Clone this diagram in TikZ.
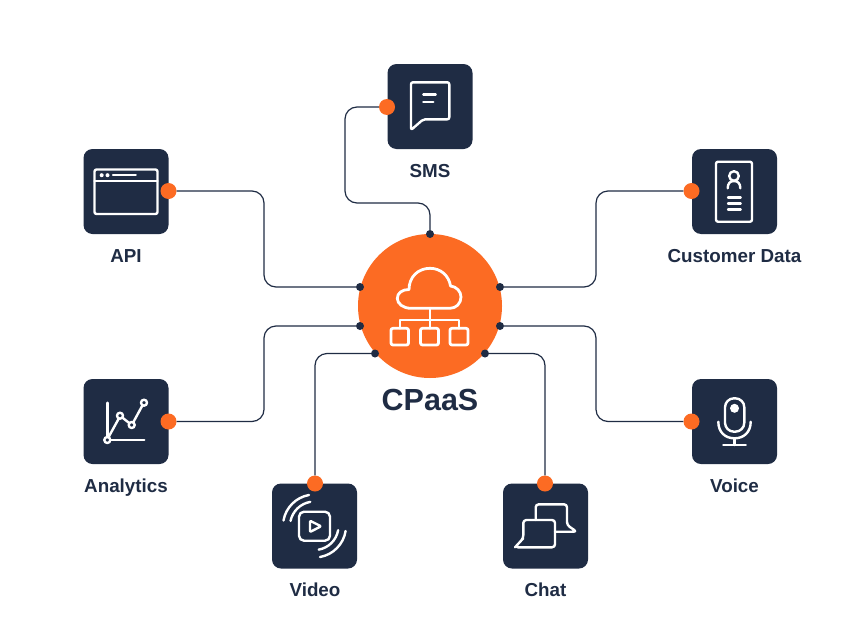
\documentclass[tikz,border=0pt]{standalone}
\usepackage{fontspec}
\setmainfont{Liberation Sans}
\definecolor{navy}{HTML}{1F2C44}
\definecolor{tangerine}{HTML}{FC6B23}
\begin{document}
\begin{tikzpicture}[x=1pt,y=-1pt]
\tikzstyle{every node}+=[inner sep=0pt]
\tikzstyle{tile}=[fill=navy,rounded corners=9pt,minimum size=85pt]
\tikzstyle{pin}=[circle,fill=tangerine,minimum size=16pt]
\tikzstyle{port}=[circle,fill=navy,minimum size=8pt]
\tikzstyle{wire}=[navy,line width=1.2pt,rounded corners=12pt]
\tikzstyle{glyph}=[white,line width=2.4pt,line cap=round,line join=round]
\tikzstyle{hubglyph}=[white,line width=2.8pt,line cap=round,line join=round]
\tikzstyle{caption}=[navy,anchor=base,font=\fontsize{18.8}{22}\selectfont\bfseries]
\useasboundingbox (0,0) rectangle (866,634);
\fill [white] (0,0) rectangle (866,634);
% hub
\node [circle,fill=tangerine,minimum size=144pt] (hub) at (430,306) {};
\node [navy,font=\fontsize{30.5}{34}\selectfont\bfseries,anchor=base] (hubtext) at (430,410) {CPaaS};
\node [port] (portN) at (430,234) {};
\node [port] (portWa) at (360,287) {};
\node [port] (portWb) at (360,326) {};
\node [port] (portEa) at (500,287) {};
\node [port] (portEb) at (500,326) {};
\node [port] (portSa) at (375,353.5) {};
\node [port] (portSb) at (485,353.5) {};
% tiles
\node [tile] (api) at (126,191.5) {};
\node [tile] (sms) at (430,106.5) {};
\node [tile] (cust) at (734.5,191.5) {};
\node [tile] (ana) at (126,421.5) {};
\node [tile] (voice) at (734.5,421.5) {};
\node [tile] (video) at (314.5,526) {};
\node [tile] (chat) at (545.5,526) {};
\node [pin] (apipin) at (168.5,191) {};
\node [pin] (smspin) at (387,107) {};
\node [pin] (custpin) at (691.5,191) {};
\node [pin] (anapin) at (168.5,421.5) {};
\node [pin] (voicepin) at (691.5,421.5) {};
\node [pin] (videopin) at (315,483.5) {};
\node [pin] (chatpin) at (545,483.5) {};
\node [caption] (apitext) at (126,262) {API};
\node [caption] (smstext) at (430,177) {SMS};
\node [caption] (custtext) at (734.5,262) {Customer Data};
\node [caption] (anatext) at (126,492.5) {Analytics};
\node [caption] (voicetext) at (734.5,492.5) {Voice};
\node [caption] (videotext) at (315,596) {Video};
\node [caption] (chattext) at (545.5,596) {Chat};
% wires
\coordinate (apibend) at (264,191);
\coordinate (custbend) at (596,191);
\coordinate (anabend) at (264,421.5);
\coordinate (voicebend) at (596,421.5);
\coordinate (smsbend) at (345,107);
\coordinate (smsdrop) at (345,203);
\draw [wire] (apipin) -- (apibend) -- (apibend |- portWa) -- (portWa);
\draw [wire] (custpin) -- (custbend) -- (custbend |- portEa) -- (portEa);
\draw [wire] (anapin) -- (anabend) -- (anabend |- portWb) -- (portWb);
\draw [wire] (voicepin) -- (voicebend) -- (voicebend |- portEb) -- (portEb);
\draw [wire] (smspin) -- (smsbend) -- (smsdrop) -- (smsdrop -| portN) -- (portN);
\draw [wire] (videopin) -- (videopin |- portSa) -- (portSa);
\draw [wire] (chatpin) -- (chatpin |- portSb) -- (portSb);
% hub icon
\draw [hubglyph] (411,308.3) .. controls (403,308.3) and (397.3,303.5) .. (397.3,298.5) .. controls (397.3,293) and (402,289.5) .. (409,289.5) .. controls (409,277) and (418,268.3) .. (430,268.3) .. controls (441,268.3) and (449,276) .. (450.5,286) .. controls (456.5,286.5) and (461,291.5) .. (461,297) .. controls (461,303.5) and (456,308.3) .. (450,308.3) -- cycle;
\draw [hubglyph] (430,308.3) -- (430,328.3);
\draw [hubglyph] (400,328.3) -- (400,320) -- (459,320) -- (459,328.3);
\draw [hubglyph,rounded corners=2pt] (391,328.3) rectangle (408.5,345);
\draw [hubglyph,rounded corners=2pt] (420.5,328.3) rectangle (438.5,345);
\draw [hubglyph,rounded corners=2pt] (450,328.3) rectangle (468,345);
% api icon
\draw [glyph,rounded corners=2pt] (94.5,169.5) rectangle (157.5,214);
\draw [glyph] (94.5,180.7) -- (157.5,180.7);
\fill [white] (101.7,175.2) circle (2);
\fill [white] (107.5,175.2) circle (2);
\draw [glyph] (113,175.2) -- (135.7,175.2);
% sms icon
\draw [glyph,rounded corners=2pt] (411,119.3) -- (411,82.3) -- (449.3,82.3) -- (449.3,119.3) -- (423.3,119.3) -- (411,130) -- cycle;
\draw [glyph] (423.3,94.3) -- (435.7,94.3);
\draw [glyph] (423.3,101.7) -- (433.3,101.7);
% customer icon
\draw [glyph,rounded corners=2pt] (716,161.7) rectangle (752,221.7);
\draw [glyph] (734,176) circle (4.8);
\draw [glyph] (727.7,188.3) .. controls (727.7,183.5) and (730,181) .. (734,181) .. controls (738,181) and (740.3,183.5) .. (740.3,188.3);
\draw [glyph] (728,197.3) -- (740.7,197.3);
\draw [glyph] (728,203.3) -- (740.7,203.3);
\draw [glyph] (728,209.3) -- (740.7,209.3);
% analytics icon
\draw [glyph] (107.3,402.7) -- (107.3,437);
\draw [glyph] (110.3,440) -- (144.3,440);
\draw [glyph] (108.5,437.2) -- (118.8,418.5);
\draw [glyph] (122.4,417.6) -- (129.3,423.1);
\draw [glyph] (133.2,422.4) -- (142.5,405.3);
\draw [glyph] (107.3,440) circle (3);
\draw [glyph] (120,415.7) circle (3);
\draw [glyph] (131.7,425) circle (3);
\draw [glyph] (144,402.7) circle (3);
% voice icon
\draw [glyph,rounded corners=9pt] (725,398.3) rectangle (744.3,431.7);
\fill [white] (734.5,408.3) circle (4.5);
\draw [glyph] (718.3,421.7) .. controls (718.3,432) and (725,438.3) .. (734.5,438.3) .. controls (744,438.3) and (750.7,432) .. (750.7,421.7);
\draw [glyph] (734.5,438.3) -- (734.5,445);
\draw [glyph] (723.3,445) -- (745.7,445);
% video icon
\draw [glyph,rounded corners=5pt] (299,511.7) rectangle (330,540.7);
\draw [glyph,rounded corners=1pt] (310,520.7) -- (321,526.3) -- (310,532) -- cycle;
\draw [glyph] (314.5,526) ++(100:31.5pt) arc[start angle=100,end angle=170,radius=31.5pt];
\draw [glyph] (314.5,526) ++(100:24.5pt) arc[start angle=100,end angle=168,radius=24.5pt];
\draw [glyph] (314.5,526) ++(280:31.5pt) arc[start angle=280,end angle=351,radius=31.5pt];
\draw [glyph] (314.5,526) ++(280:24pt) arc[start angle=280,end angle=350,radius=24pt];
% chat icon
\draw [glyph,rounded corners=3pt] (535.7,520) -- (535.7,504.3) -- (567,504.3) -- (567,525) -- (576.7,531.7) -- (555,531.7);
\draw [glyph,rounded corners=3pt] (515,547.3) -- (523.3,538.3) -- (523.3,520) -- (555,520) -- (555,547.3) -- (515,547.3) -- (523.3,538.3);
\end{tikzpicture}
\end{document}
